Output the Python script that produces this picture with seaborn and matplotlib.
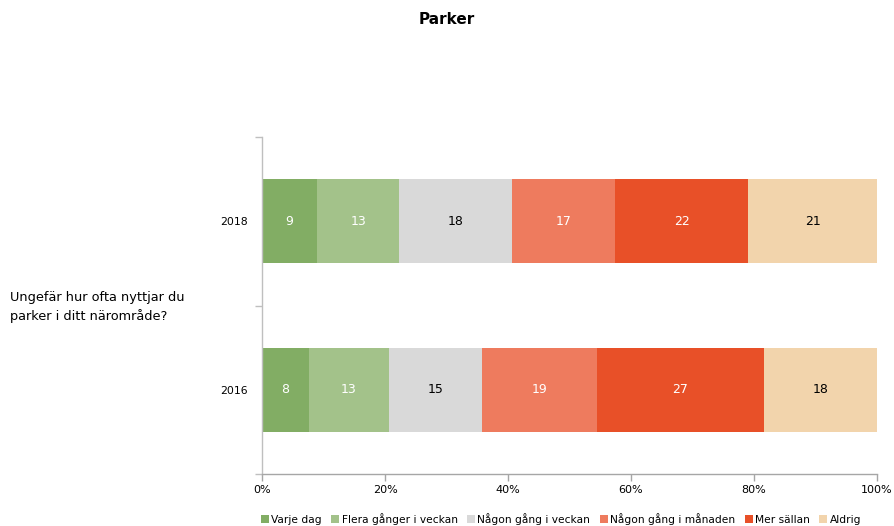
import matplotlib
matplotlib.use("Agg")
import matplotlib.pyplot as plt
import seaborn as sns
import numpy as np
import pandas as pd
from matplotlib.patches import Patch

years = ["2018", "2016"]
categories = ["Varje dag", "Flera gånger i veckan", "Någon gång i veckan",
              "Någon gång i månaden", "Mer sällan", "Aldrig"]
values_2018 = [9.0, 13.3, 18.3, 16.8, 21.7, 20.9]
values_2016 = [7.6, 13.1, 15.1, 18.6, 27.2, 18.4]
colors = ["#82AD64", "#A3C28A", "#D9D9D9", "#EE7B5E", "#E85028", "#F2D4AC"]
label_colors = ["white", "white", "black", "white", "white", "black"]
title = "Parker"
question = "Ungefär hur ofta nyttjar du\nparker i ditt närområde?"
xticks = [0, 20, 40, 60, 80, 100]
xticklabels = ["0%", "20%", "40%", "60%", "80%", "100%"]

sns.set_theme(style="white")
plt.rcParams["font.family"] = ["DejaVu Sans"]
plt.rcParams["text.color"] = "black"
plt.rcParams["xtick.labelcolor"] = "black"
plt.rcParams["ytick.labelcolor"] = "black"

df = pd.DataFrame({"year": years,
                   **{c: [a, b] for c, a, b in zip(categories, values_2018, values_2016)}})
cum = df[categories].cumsum(axis=1)

fig = plt.figure(figsize=(8.94, 5.26), dpi=100)
ax = fig.add_axes([262/894, 1-474/526, (877-262)/894, (474-137)/526])

# draw cumulative bars from largest to smallest so segments appear stacked
for i in range(len(categories) - 1, -1, -1):
    c = categories[i]
    sns.barplot(x=cum[c], y=df["year"], order=years, orient="h",
                color=colors[i], width=0.5, ax=ax, saturation=1, linewidth=0)

for r, yr in enumerate(years):
    left = 0
    for i, c in enumerate(categories):
        v = df.loc[r, c]
        ax.text(left + v/2, r, f"{v:.0f}", ha="center", va="center",
                fontsize=9, color=label_colors[i])
        left += v

ax.set_xlim(0, 100)
ax.set_ylim(1.5, -0.5)
ax.set_xticks(xticks)
ax.set_xticklabels(xticklabels, fontsize=8)
ax.set_yticks([0, 1])
ax.set_yticklabels(years, fontsize=7.8)
ax.set_yticks([-0.5, 0.5, 1.5], minor=True)
ax.tick_params(axis="y", which="major", length=0, pad=10)
ax.tick_params(axis="y", which="minor", length=5, color="#BFBFBF", width=1, left=True, direction="out")
ax.tick_params(axis="x", which="major", length=5, color="#A6A6A6", width=1, bottom=True, direction="out", pad=3)
ax.set_xlabel("")
ax.set_ylabel("")
for s in ["top", "right"]:
    ax.spines[s].set_visible(False)
ax.spines["left"].set_color("#BFBFBF")
ax.spines["bottom"].set_color("#A6A6A6")
ax.spines["left"].set_linewidth(1)
ax.spines["bottom"].set_linewidth(1)

fig.text(0.5, 1-20/526, title, ha="center", va="center", fontsize=11, fontweight="bold")
fig.text(10/894, 1-307/526, question, ha="left", va="center", fontsize=9.3, linespacing=1.45)

handles = [Patch(facecolor=col, edgecolor="none") for col in colors]
fig.legend(handles, categories, loc="center left", bbox_to_anchor=(261/894, 1-519/526),
           ncol=6, frameon=False, fontsize=7.7, handlelength=0.75, handleheight=0.75,
           handletextpad=0.2, columnspacing=0.9, borderaxespad=0, borderpad=0)

fig.savefig("out.png", dpi=100)
